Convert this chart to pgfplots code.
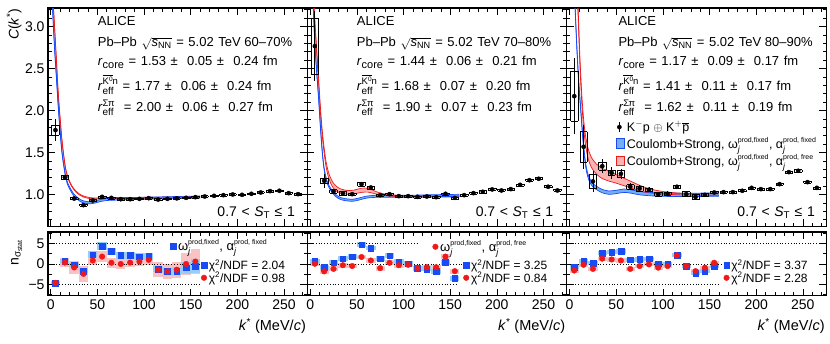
\documentclass[border=0pt]{standalone}
\usepackage{fontspec}
\setmainfont{Liberation Sans}
\usepackage{amsmath}
\usepackage{pgfplots}
\usepackage{pgfplotstable}
\usepgfplotslibrary{fillbetween}
\pgfplotsset{compat=1.18}

\definecolor{mblue}{RGB}{25,75,245}
\definecolor{bandblue}{RGB}{115,175,245}
\definecolor{mred}{RGB}{240,25,25}
\definecolor{bandred}{RGB}{250,180,180}
\definecolor{lblue}{RGB}{150,205,250}
\definecolor{lred}{RGB}{250,195,195}
\newcommand{\ft}{\fontsize{13}{15}\selectfont}
\newcommand{\fl}{\fontsize{12}{14}\selectfont}
\newcommand{\sk}{\hspace{4.6pt}}
\newsavebox\supbox
\newsavebox\subbox
\newcommand{\supsub}[2]{\sbox\supbox{#1}\sbox\subbox{#2}\rlap{\raisebox{5.5pt}{\usebox\supbox}}\raisebox{-4pt}{\usebox\subbox}\ifdim\wd\supbox>\wd\subbox\hspace{\dimexpr\wd\supbox-\wd\subbox\relax}\fi}
\newcommand{\reff}[1]{\textit{r}\supsub{\fontsize{9.5}{11}\selectfont #1}{\fontsize{10}{11}\selectfont eff}}
\newcommand{\kbar}{$\overline{\hbox{K\raisebox{3pt}{\fontsize{6.5}{7}\selectfont 0}}}$n}
\newcommand{\om}{$\text{ω}^{\text{\fontsize{7}{8}\selectfont prod,fixed}}_{\textit{j}}$}
\newcommand{\al}[1]{$\text{α}^{\text{\fontsize{7}{8}\selectfont prod, #1}}_{\textit{j}}$}

% correlation functions: k C stat sys
\pgfplotstableread{
k C stat sys
5 1.766 0.13 0.06
15 1.206 0.025 0.02
25 0.952 0.015 0.012
35 0.873 0.015 0.012
45 0.929 0.012 0.012
55 0.972 0.01 0.012
65 0.960 0.01 0.012
75 0.944 0.01 0.01
85 0.944 0.01 0.01
95 0.948 0.01 0.01
105 0.956 0.01 0.01
115 0.940 0.01 0.01
125 0.948 0.01 0.01
135 0.954 0.01 0.01
145 0.960 0.01 0.01
155 0.968 0.01 0.01
165 0.976 0.01 0.01
175 0.984 0.01 0.01
185 0.992 0.01 0.01
195 1.000 0.01 0.01
205 0.996 0.01 0.01
215 1.008 0.01 0.01
225 1.024 0.01 0.01
235 1.040 0.01 0.01
245 1.044 0.01 0.01
255 1.016 0.01 0.01
265 1.004 0.01 0.01
}\dA
\pgfplotstableread{
k C stat sys
5 2.766 0.42 0.33
15 1.163 0.08 0.034
25 1.036 0.03 0.02
35 1.016 0.025 0.02
45 1.004 0.02 0.015
55 1.123 0.02 0.02
65 1.083 0.02 0.02
75 0.992 0.015 0.012
85 1.004 0.012 0.012
95 0.980 0.012 0.012
105 0.980 0.012 0.012
115 0.972 0.012 0.012
125 0.976 0.012 0.012
135 0.968 0.012 0.012
145 1.008 0.012 0.012
155 0.960 0.012 0.012
165 0.992 0.012 0.012
175 1.016 0.012 0.012
185 1.032 0.012 0.012
195 1.060 0.012 0.012
205 1.048 0.012 0.012
215 1.064 0.012 0.012
225 1.115 0.012 0.012
235 1.170 0.012 0.012
245 1.187 0.012 0.012
255 1.092 0.012 0.012
265 1.048 0.012 0.012
}\dB
\pgfplotstableread{
k C stat sys
5 2.17 0.45 0.30
15 1.568 0.26 0.18
25 1.155 0.12 0.085
35 1.337 0.085 0.044
45 1.258 0.07 0.03
55 1.246 0.06 0.04
65 1.092 0.04 0.025
75 1.071 0.04 0.03
85 1.056 0.03 0.02
95 1.004 0.03 0.02
105 1.008 0.03 0.02
115 1.092 0.025 0.02
125 1.004 0.03 0.03
135 0.970 0.03 0.03
145 0.996 0.02 0.015
155 1.024 0.015 0.012
165 1.028 0.015 0.012
175 1.028 0.015 0.012
185 1.044 0.015 0.012
195 1.079 0.015 0.012
205 1.064 0.015 0.012
215 1.064 0.015 0.012
225 1.123 0.015 0.012
235 1.266 0.015 0.012
245 1.282 0.015 0.012
255 1.147 0.015 0.012
265 1.079 0.015 0.012
}\dC

% model bands: k centre halfwidth
\pgfplotstableread{
k c w
1 3.6 0.012
2 3.2 0.012
4 2.75 0.012
6 2.4 0.012
8 2.05 0.012
10 1.75 0.012
12 1.5 0.012
14 1.34 0.012
16 1.21 0.012
18 1.13 0.012
21 1.06 0.012
25 0.99 0.012
29 0.95 0.012
33 0.92 0.012
38 0.905 0.012
43 0.902 0.012
48 0.912 0.012
53 0.928 0.012
60 0.94 0.012
70 0.945 0.012
85 0.95 0.012
100 0.955 0.012
120 0.96 0.012
140 0.965 0.012
160 0.97 0.012
}\bA
\pgfplotstableread{
k c w
1 3.75 0.006
2 3.4 0.006
4 3.0 0.006
6 2.6 0.006
8 2.2 0.006
10 1.9 0.006
12 1.64 0.006
14 1.45 0.006
16 1.3 0.006
19 1.18 0.006
23 1.09 0.006
27 1.035 0.006
31 0.998 0.006
36 0.972 0.006
42 0.957 0.006
48 0.952 0.006
55 0.955 0.006
65 0.958 0.006
85 0.958 0.006
100 0.96 0.006
120 0.963 0.006
140 0.968 0.006
160 0.972 0.006
}\rA
\pgfplotstableread{
k c w
1 3.9 0.012
3 3.3 0.012
5 2.8 0.012
7 2.45 0.012
9 2.15 0.012
11 1.8 0.012
13 1.5 0.012
15 1.3 0.012
18 1.15 0.012
22 1.06 0.012
27 0.99 0.012
33 0.95 0.012
40 0.935 0.012
46 0.932 0.012
52 0.945 0.012
60 0.968 0.012
70 0.978 0.012
85 0.98 0.012
110 0.98 0.012
130 0.985 0.012
160 0.99 0.012
}\bB
\pgfplotstableread{
k c w
1 4.2 0.02
3 3.5 0.02
5 3.05 0.025
7 2.7 0.03
9 2.35 0.03
11 2.0 0.03
13 1.72 0.03
15 1.52 0.03
17 1.36 0.03
20 1.22 0.03
24 1.12 0.03
28 1.07 0.028
33 1.04 0.025
40 1.025 0.022
47 1.03 0.022
55 1.05 0.025
62 1.05 0.022
70 1.022 0.015
78 1.0 0.01
90 0.985 0.008
110 0.978 0.006
130 0.975 0.006
160 0.978 0.006
}\rB
\pgfplotstableread{
k c w
1 5.0 0.02
4 3.8 0.02
6 3.2 0.02
8 2.7 0.02
10 2.3 0.02
12 2.0 0.02
14 1.7 0.02
16 1.46 0.02
18 1.3 0.02
21 1.18 0.02
25 1.11 0.02
30 1.07 0.02
35 1.04 0.02
42 1.022 0.02
50 1.03 0.02
58 1.045 0.02
65 1.037 0.02
75 1.016 0.02
90 1.002 0.02
110 0.996 0.02
130 0.995 0.02
160 1.0 0.02
}\bC
\pgfplotstableread{
k c w
1 5.5 0.03
6 4.0 0.04
9 3.2 0.05
11 2.6 0.05
13 2.15 0.05
15 1.85 0.05
17 1.65 0.055
20 1.48 0.06
24 1.37 0.06
29 1.30 0.06
35 1.25 0.06
42 1.22 0.06
50 1.185 0.05
58 1.15 0.045
65 1.12 0.04
75 1.075 0.035
85 1.045 0.025
100 1.02 0.015
120 1.005 0.01
140 1.0 0.008
160 1.0 0.008
}\rC

% deviations: k n sys
\pgfplotstableread{
k n sys
5 -4.7 0.3
15 0.7 0.5
25 -0.2 0.5
35 -1.7 0.6
45 2.3 0.9
55 4.3 1.0
65 3.1 0.9
75 2.1 0.9
85 2.1 0.9
95 1.8 0.9
105 1.9 0.9
115 -1.2 0.8
125 -1.8 0.8
135 -1.8 1.0
145 -0.9 1.5
155 -0.5 1.8
}\nAb
\pgfplotstableread{
k n sys
5 -4.6 0.4
15 0.35 1.0
25 -0.85 1.6
35 -2.4 2.0
45 0.85 1.0
55 1.8 1.3
65 0.3 1.2
75 0.0 1.2
85 0.35 1.2
95 0.6 1.2
105 1.0 1.2
115 -1.4 1.8
125 -1.8 1.8
135 -1.4 1.9
145 0.0 2.8
155 0.6 3.0
}\nAr
\pgfplotstableread{
k n sys
5 0.7 0.6
15 -0.8 0.6
25 0.3 0.6
35 1.3 0.6
45 1.8 0.6
55 4.75 0.6
65 3.9 0.6
75 1.3 0.6
85 2.0 0.6
95 0.6 0.6
105 0.1 0.6
115 -1.0 0.6
125 -1.2 0.6
135 -1.8 0.6
145 0.45 0.6
155 -3.5 0.6
}\nBb
\pgfplotstableread{
k n sys
5 0.05 0.6
15 -1.8 0.6
25 -1.2 0.6
35 -0.3 0.6
45 -0.5 0.6
55 1.7 0.6
65 0.85 0.6
75 -1.0 0.6
85 0.3 0.6
95 -0.3 0.6
105 -0.2 0.6
115 -1.0 0.6
125 -0.8 0.6
135 -0.8 0.6
145 1.8 0.6
155 -1.75 0.6
}\nBr
\pgfplotstableread{
k n sys
5 -0.8 0.5
15 0.7 0.5
25 0.2 0.5
35 2.7 0.5
45 2.9 0.5
55 3.05 0.5
65 1.0 0.5
75 1.1 0.5
85 1.3 0.5
95 0.05 0.5
105 0.05 0.5
115 2.2 0.5
125 -0.5 0.5
135 -2.2 0.5
145 -1.75 0.5
155 -0.5 0.5
}\nCb
\pgfplotstableread{
k n sys
5 -1.6 0.5
15 -0.2 0.5
25 -1.2 0.5
35 1.3 0.5
45 1.1 0.5
55 0.85 0.5
65 -1.2 0.5
75 -0.5 0.5
85 -0.1 0.5
95 -0.9 0.5
105 -0.5 0.5
115 2.1 0.5
125 -0.5 0.5
135 -1.75 0.5
145 -0.9 0.5
155 0.3 0.5
}\nCr

\pgfplotsset{
  panel/.style={anchor=north west, x=0.933pt, xmin=-3, xmax=275,
    axis line style={line width=1.1pt}, tick style={black, line width=0.6pt},
    major tick length=7pt, minor tick length=3.5pt,
    xtick={0,50,...,250}, minor xtick={0,10,...,270},
    tick label style={font=\fontsize{14}{16}\selectfont},
    /pgf/number format/assume math mode=true},
  top/.style={panel, y=84pt, ymin=0.62, ymax=3.22,
    ytick={1,1.5,2,2.5,3}, minor ytick={0.7,0.8,...,3.2}, xticklabels={},
    yticklabel style={/pgf/number format/.cd, fixed, fixed zerofill, precision=1}},
  bot/.style={panel, y=4.1pt, ymin=-7.7, ymax=7.8,
    ytick={-5,0,5}, minor ytick={-7.5,-2.5,2.5,7.5}, yticklabels={−5,0,5},
    xticklabel style={yshift=-1pt},
    xlabel={\textit{k}\textsuperscript{*} (MeV/\textit{c})},
    xlabel style={font=\fontsize{14.5}{16}\selectfont, at={(rel axis cs:1,0)}, anchor=north east, yshift=-19pt, xshift=2pt},
    legend style={draw=none, fill=none, font=\fl, legend cell align=left, row sep=-3pt, inner sep=0pt}},
  ebox/.style={draw=none, mark=none, error bars/.cd, #1 dir=both, #1 explicit, error mark=none,
    error bar style={draw=black, line width=0.6pt}},
  fbox/.style={draw=none, mark=none, error bars/.cd, y dir=both, y explicit, error mark=none,
    error bar style={draw=#1, line width=9.33pt}},
  datapts/.style={only marks, mark=*, mark size=2.1pt, black,
    error bars/.cd, y dir=both, y explicit, error mark=none, error bar style={line width=0.8pt, black}},
  bsq/.style={only marks, mark=square*, mark size=2.8pt, mblue},
  rci/.style={only marks, mark=*, mark size=2.8pt, mred},
  refl/.style={black, dotted, line width=0.8pt},
  bline/.style={line width=0.7pt, smooth},
  overlay/.style={bot, hide axis, xlabel={}},
}

% model bands: #1 red table, #2 blue table
\newcommand{\bands}[2]{%
  \addplot[draw=none, smooth, name path=rl] table[x=k, y expr=\thisrow{c}-\thisrow{w}] {#1};
  \addplot[draw=none, smooth, name path=ru] table[x=k, y expr=\thisrow{c}+\thisrow{w}] {#1};
  \addplot[bandred] fill between[of=rl and ru];
  \addplot[draw=none, smooth, name path=bl] table[x=k, y expr=\thisrow{c}-\thisrow{w}] {#2};
  \addplot[draw=none, smooth, name path=bu] table[x=k, y expr=\thisrow{c}+\thisrow{w}] {#2};
  \addplot[bandblue] fill between[of=bl and bu];
  \addplot[mred, bline] table[x=k, y expr=\thisrow{c}-\thisrow{w}] {#1};
  \addplot[mred, bline] table[x=k, y expr=\thisrow{c}+\thisrow{w}] {#1};
  \addplot[mblue, bline] table[x=k, y expr=\thisrow{c}-\thisrow{w}] {#2};
  \addplot[mblue, bline] table[x=k, y expr=\thisrow{c}+\thisrow{w}] {#2};
}
% systematic boxes and data points
\newcommand{\points}[1]{%
  \addplot[ebox=x] table[x=k, y expr=\thisrow{C}+\thisrow{sys}, x error expr=4] {#1};
  \addplot[ebox=x] table[x=k, y expr=\thisrow{C}-\thisrow{sys}, x error expr=4] {#1};
  \addplot[ebox=y] table[x expr=\thisrow{k}-4, y=C, y error=sys] {#1};
  \addplot[ebox=y] table[x expr=\thisrow{k}+4, y=C, y error=sys] {#1};
  \addplot[datapts] table[x=k, y=C, y error=stat] {#1};
}

\begin{document}
\begin{tikzpicture}

% ---------- top row ----------
\begin{axis}[top, at={(48pt,-8pt)}]
\bands{\rA}{\bA}
\points{\dA}
\end{axis}

\begin{axis}[top, at={(307.4pt,-8pt)}, yticklabels={}]
\bands{\rB}{\bB}
\points{\dB}
\end{axis}

\begin{axis}[top, at={(566.8pt,-8pt)}, yticklabels={},
  legend style={at={(axis cs:49,1.895)}, anchor=north west, draw=none, fill=none,
    font=\fontsize{12.5}{14}\selectfont, legend cell align=left, row sep=1pt, inner sep=0pt}]
\addlegendimage{legend image code/.code={\draw[black, line width=0.8pt] (0.12cm,-0.17cm)--(0.12cm,0.17cm); \fill[black] (0.12cm,0cm) circle (2.1pt);}}
\addlegendentry{K$^{-}$p $\oplus$ K$^{+}\overline{\text{p}}$}
\addlegendimage{legend image code/.code={\draw[mblue, fill=bandblue, line width=0.9pt] (0cm,-0.17cm) rectangle (0.3cm,0.17cm);}}
\addlegendentry{Coulomb+Strong, \om, \al{fixed}}
\addlegendimage{legend image code/.code={\draw[mred, fill=bandred, line width=0.9pt] (0cm,-0.17cm) rectangle (0.3cm,0.17cm);}}
\addlegendentry{Coulomb+Strong, \om, \al{free}}
\bands{\rC}{\bC}
\points{\dC}
\end{axis}

% ---------- bottom row ----------
\begin{axis}[bot, at={(48pt,-232pt)}, legend style={at={(axis cs:161,1.6)}, anchor=north west, font=\fl}]
\addlegendimage{bsq}\addlegendentry{χ\textsuperscript{2}/NDF = 2.04}
\addlegendimage{rci}\addlegendentry{χ\textsuperscript{2}/NDF = 0.98}
\addplot[fbox=lred] table[x=k, y=n, y error=sys] {\nAr};
\addplot[fbox=lblue] table[x=k, y=n, y error=sys] {\nAb};
\addplot[refl] coordinates {(0,5) (117,5)};
\addplot[refl] coordinates {(0,0) (160,0)};
\addplot[refl] coordinates {(0,-5) (160,-5)};
\addplot[bsq] table[x=k, y=n] {\nAb};
\addplot[rci] table[x=k, y=n] {\nAr};
\end{axis}
\begin{axis}[overlay, at={(48pt,-232pt)}, legend style={at={(axis cs:128,4.4)}, anchor=west, font=\fontsize{13}{15}\selectfont}]
\addlegendimage{bsq}
\addlegendentry{\om, \al{fixed}}
\addplot[draw=none] coordinates {(0,0) (10,1)};
\end{axis}

\begin{axis}[bot, at={(307.4pt,-232pt)}, yticklabels={}, legend style={at={(axis cs:164,1.6)}, anchor=north west, font=\fl}]
\addlegendimage{bsq}\addlegendentry{χ\textsuperscript{2}/NDF = 3.25}
\addlegendimage{rci}\addlegendentry{χ\textsuperscript{2}/NDF = 0.84}
\addplot[fbox=lred] table[x=k, y=n, y error=sys] {\nBr};
\addplot[fbox=lblue] table[x=k, y=n, y error=sys] {\nBb};
\addplot[refl] coordinates {(0,5) (115,5)};
\addplot[refl] coordinates {(0,0) (165,0)};
\addplot[refl] coordinates {(0,-5) (158,-5)};
\addplot[bsq] table[x=k, y=n] {\nBb};
\addplot[rci] table[x=k, y=n] {\nBr};
\end{axis}
\begin{axis}[overlay, at={(307.4pt,-232pt)}, legend style={at={(axis cs:131,4.2)}, anchor=west, font=\fontsize{13}{15}\selectfont}]
\addlegendimage{rci}
\addlegendentry{\om, \al{free}}
\addplot[draw=none] coordinates {(0,0) (10,1)};
\end{axis}

\begin{axis}[bot, at={(566.8pt,-232pt)}, yticklabels={}, legend style={at={(axis cs:165,1.6)}, anchor=north west, font=\fl}]
\addlegendimage{bsq}\addlegendentry{χ\textsuperscript{2}/NDF = 3.37}
\addlegendimage{rci}\addlegendentry{χ\textsuperscript{2}/NDF = 2.28}
\addplot[fbox=lred] table[x=k, y=n, y error=sys] {\nCr};
\addplot[fbox=lblue] table[x=k, y=n, y error=sys] {\nCb};
\addplot[refl] coordinates {(0,5) (265,5)};
\addplot[refl] coordinates {(0,0) (166,0)};
\addplot[refl] coordinates {(0,-5) (161,-5)};
\addplot[bsq] table[x=k, y=n] {\nCb};
\addplot[rci] table[x=k, y=n] {\nCr};
\end{axis}

% ---------- labels ----------
\node[rotate=90, anchor=base east, font=\fontsize{14}{16}\selectfont] at (18.5pt,-5pt) {\textit{C}(\textit{k}\textsuperscript{*})};
\node[rotate=90, anchor=base east, font=\fontsize{14}{16}\selectfont] at (18.5pt,-236pt) {n$_{\text{σ}_{\text{stat}}}$};

\foreach \xx/\cent/\rc/\rk/\rs in {97.7/60–70\%/1.53\sk±\sk\sk0.05\sk±\sk\sk0.24/1.77\sk±\sk\sk0.06\sk±\sk\sk0.24/2.00\sk±\sk\sk0.06\sk±\sk\sk0.27,
  356.7/70–80\%/1.44\sk±\sk\sk0.06\sk±\sk\sk0.21/1.68\sk±\sk\sk0.07\sk±\sk\sk0.20/1.90\sk±\sk\sk0.07\sk±\sk\sk0.23,
  618.3/80–90\%/1.17\sk±\sk\sk0.09\sk±\sk\sk0.17/1.41\sk±\sk\sk0.11\sk±\sk\sk0.17/1.62\sk±\sk\sk0.11\sk±\sk\sk0.19} {
  \node[anchor=base west, inner sep=0pt, font=\ft] at (\xx pt,-25pt) {ALICE};
  \node[anchor=base west, inner sep=0pt, font=\ft] at (\xx pt,-46.7pt) {Pb–Pb\sk$\sqrt{\textit{s}_{\text{NN}}}$\sk=\sk5.02\sk TeV \cent};
  \node[anchor=base west, inner sep=0pt, font=\ft] at (\xx pt,-65pt) {\textit{r}\raisebox{-3pt}{\fontsize{11}{13}\selectfont core}\sk=\sk\rc\sk fm};
  \node[anchor=base west, inner sep=0pt, font=\ft] at (\xx pt,-90pt) {\reff{\kbar}\sk=\sk\rk\sk fm};
  \node[anchor=base west, inner sep=0pt, font=\ft] at (\xx pt,-111.7pt) {\reff{Σπ}\sk\sk=\sk\rs\sk fm};
}
\foreach \xx in {295,553.3,815} {
  \node[anchor=base east, inner sep=0pt, font=\fontsize{14}{16}\selectfont] at (\xx pt,-216pt) {0.7\sk<\sk\textit{S}\textsubscript{T}\sk≤\sk1};
}
\pgfresetboundingbox
\useasboundingbox (0pt,0pt) rectangle (830pt,-343pt);
\end{tikzpicture}
\end{document}
